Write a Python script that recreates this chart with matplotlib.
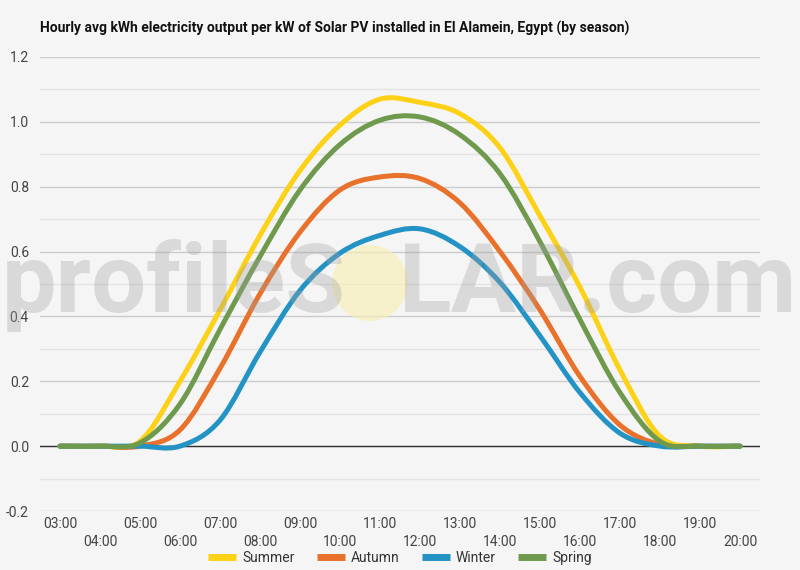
import matplotlib.pyplot as plt
from matplotlib.path import Path
from matplotlib.patches import PathPatch, Ellipse
from matplotlib.lines import Line2D

plt.rcParams['font.family'] = ['Roboto', 'DejaVu Sans']

# ---- data ----
hours = ["03:00", "04:00", "05:00", "06:00", "07:00", "08:00", "09:00", "10:00", "11:00",
         "12:00", "13:00", "14:00", "15:00", "16:00", "17:00", "18:00", "19:00", "20:00"]

summer = [0.0, 0.0, 0.015, 0.20, 0.42, 0.65, 0.85, 0.99, 1.07,
          1.06, 1.025, 0.92, 0.71, 0.49, 0.235, 0.03, 0.0, 0.0]
autumn = [0.0, 0.0, 0.0, 0.05, 0.24, 0.47, 0.66, 0.79, 0.83,
          0.825, 0.75, 0.60, 0.42, 0.215, 0.065, 0.005, 0.0, 0.0]
winter = [0.0, 0.0, 0.0, 0.0, 0.08, 0.29, 0.48, 0.595, 0.65,
          0.67, 0.615, 0.505, 0.34, 0.165, 0.04, 0.0, 0.0, 0.0]
spring = [0.0, 0.0, 0.01, 0.13, 0.36, 0.585, 0.79, 0.93, 1.005,
          1.015, 0.96, 0.84, 0.63, 0.39, 0.165, 0.015, 0.0, 0.0]

series = [("Summer", summer, "#fcd116"),
          ("Autumn", autumn, "#e8712b"),
          ("Winter", winter, "#2393c6"),
          ("Spring", spring, "#6f9a4e")]

title = "Hourly avg kWh electricity output per kW of Solar PV installed in El Alamein, Egypt (by season)"


def smooth_path(xs, ys):
    # catmull-rom style cubic bezier through the points (like curveType 'function')
    n = len(xs)
    verts = [(xs[0], ys[0])]
    codes = [Path.MOVETO]
    for i in range(n - 1):
        x0, y0 = xs[max(i - 1, 0)], ys[max(i - 1, 0)]
        x1, y1 = xs[i], ys[i]
        x2, y2 = xs[i + 1], ys[i + 1]
        x3, y3 = xs[min(i + 2, n - 1)], ys[min(i + 2, n - 1)]
        c1 = (x1 + (x2 - x0) / 6.0, y1 + (y2 - y0) / 6.0)
        c2 = (x2 - (x3 - x1) / 6.0, y2 - (y3 - y1) / 6.0)
        verts += [c1, c2, (x2, y2)]
        codes += [Path.CURVE4] * 3
    return Path(verts, codes)


bg = "#f5f5f5"
fig = plt.figure(figsize=(8, 5.7), dpi=100, facecolor=bg)
ax = fig.add_axes([0.05, 0.1035, 0.90, 0.7965])
ax.set_facecolor(bg)

x = list(range(len(hours)))
for name, vals, col in series:
    patch = PathPatch(smooth_path(x, vals), facecolor="none", edgecolor=col,
                      lw=3.6, capstyle="round", joinstyle="round", zorder=3)
    ax.add_patch(patch)

ax.set_xlim(-0.5, 17.5)
ax.set_ylim(-0.2, 1.2)

ax.set_yticks([-0.2, 0.0, 0.2, 0.4, 0.6, 0.8, 1.0, 1.2])
ax.set_yticklabels(["-0.2", "0.0", "0.2", "0.4", "0.6", "0.8", "1.0", "1.2"])
ax.set_yticks([-0.1, 0.1, 0.3, 0.5, 0.7, 0.9, 1.1], minor=True)
ax.grid(axis="y", which="major", color="#cccccc", lw=1)
ax.grid(axis="y", which="minor", color="#e4e4e4", lw=1)
ax.axhline(0, color="#333333", lw=1, zorder=2)

# staggered hour labels
ax.set_xticks(x[::2], hours[::2])
ax.set_xticks(x[1::2], hours[1::2], minor=True)
ax.tick_params(axis="x", which="major", length=0, pad=4, labelsize=10, labelcolor="#444444")
ax.tick_params(axis="x", which="minor", length=0, pad=17.5, labelsize=10, labelcolor="#444444")
ax.tick_params(axis="y", which="both", length=0, pad=8, labelsize=10, labelcolor="#444444")
ax.xaxis.grid(False, which="both")

for s in ax.spines.values():
    s.set_visible(False)

fig.text(40 / 800, 1 - 28 / 570, title, fontsize=10, fontweight="bold",
         color="#111111", va="center", ha="left")

handles = [Line2D([], [], color=c, lw=5, solid_capstyle="butt") for _, _, c in series]
fig.legend(handles, [n for n, _, _ in series], loc="center", ncol=4,
           bbox_to_anchor=(0.5, 1 - 558 / 570), frameon=False, fontsize=10,
           handlelength=2.0, handletextpad=0.45, columnspacing=1.6,
           labelcolor="#333333")

# watermark
fig.add_artist(Ellipse((370 / 800, 1 - 283 / 570), 76 / 800, 76 / 570, transform=fig.transFigure,
                       facecolor="#f8efb0", edgecolor="none", alpha=0.6, zorder=10))
fig.text(2 / 800, 1 - 312 / 570, "profileS", fontsize=70, fontweight="bold", color="#a0a0a0",
         alpha=0.33, ha="left", va="baseline", zorder=11)
fig.text(797 / 800, 1 - 312 / 570, "LAR.com", fontsize=70, fontweight="bold", color="#a0a0a0",
         alpha=0.33, ha="right", va="baseline", zorder=11)

fig.savefig("out.png", dpi=100, facecolor=bg)
